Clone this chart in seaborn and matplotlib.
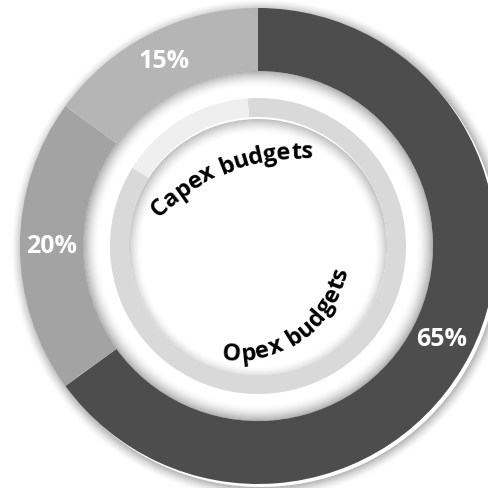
import numpy as np
import pandas as pd
import seaborn as sns
import matplotlib
matplotlib.use("Agg")
import matplotlib.pyplot as plt
from matplotlib.patches import Wedge, Circle
from matplotlib.font_manager import FontProperties, findfont
from matplotlib.ft2font import FT2Font

# ---------------- data ----------------
outer_labels = ["Opex", "Capex A", "Capex B"]
outer_values = [65, 20, 15]
outer_colors = ["#4d4d4d", "#a3a3a3", "#b5b5b5"]

inner_values = [85, 15]
inner_colors = ["#d9d9d9", "#efefef"]

capex_text = "Capex budgets"
opex_text = "Opex budgets"

# ---------------- style ----------------
sns.set_theme(style="white")
FAMILY = "Open Sans"
plt.rcParams["font.family"] = [FAMILY, "DejaVu Sans"]

W = 488
fig = plt.figure(figsize=(4.88, 4.88), dpi=100)
ax = fig.add_axes([0, 0, 1, 1])

CX, CY = 258, 242
R_OUT, R_OUT_IN = 238, 175
R_RING, R_RING_IN = 148, 129

# outer drop shadow (offset right/down)
n = 12
for k in range(n):
    r = R_OUT + 1 + k
    a = 0.28 * (1 - k / n) ** 1.6
    ax.add_patch(Wedge((CX + 3, CY - 3), r, 0, 360, width=1.05,
                       facecolor="black", edgecolor="none", alpha=a, zorder=0))

# outer ring
df = pd.DataFrame({"label": outer_labels, "value": outer_values})
wedges, _, autotexts = ax.pie(
    df["value"], radius=R_OUT, center=(CX, CY), startangle=90,
    counterclock=False, colors=outer_colors,
    wedgeprops=dict(width=R_OUT - R_OUT_IN, linewidth=0),
    autopct=lambda p: f"{p:.0f}%", pctdistance=0.868,
    textprops=dict(color="white", fontsize=18, fontweight="bold",
                   family=FAMILY))
for w in wedges:
    w.set_zorder(1)
for t in autotexts:
    t.set_zorder(5)

# shading in the gap next to outer ring
n = 16
for k in range(n):
    r = R_OUT_IN - k
    a = 0.30 * (1 - k / n) ** 1.8
    ax.add_patch(Wedge((CX, CY), r, 0, 360, width=1.05,
                       facecolor="black", edgecolor="none", alpha=a, zorder=2))

# inner disk shadow (inner shadow from the top)
clip = Circle((CX, CY), R_RING_IN, transform=ax.transData)
n = 14
for k in range(n):
    r = R_RING_IN + 2 - k
    a = 0.24 * (1 - k / n) ** 1.6
    p = Wedge((CX, CY - 4), r, 0, 360, width=1.05,
              facecolor="black", edgecolor="none", alpha=a, zorder=2)
    ax.add_patch(p)
    p.set_clip_path(clip)

# inner ring
w2, _ = ax.pie(inner_values, radius=R_RING, center=(CX, CY), startangle=94,
               counterclock=False, colors=inner_colors,
               wedgeprops=dict(width=R_RING - R_RING_IN, linewidth=0))
for w in w2:
    w.set_zorder(3)


# ---------------- curved text ----------------
FS = 17
fp = FontProperties(family=FAMILY, weight="bold")
font = FT2Font(findfont(fp))
font.set_size(FS, 100)


def char_offsets(s, span):
    adv = []
    for ch in s:
        g = font.load_char(ord(ch))
        adv.append(g.linearHoriAdvance / 65536.0)
    pos = np.cumsum([0] + adv)
    centers = (pos[:-1] + pos[1:]) / 2.0
    centers = centers - (centers[0] + centers[-1]) / 2.0
    return centers * span / np.ptp(centers)


def arc_text(s, cx, cy, r_mid, shift, mid_deg, span, top_side):
    offs = char_offsets(s, span)
    for ch, o in zip(s, offs):
        if ch == " ":
            continue
        if top_side:  # reading clockwise, tops outward
            th = np.deg2rad(mid_deg) - o / r_mid
            rot = np.rad2deg(th) - 90
            rb = r_mid - shift
        else:  # reading counter-clockwise, tops toward centre
            th = np.deg2rad(mid_deg) + o / r_mid
            rot = np.rad2deg(th) + 90
            rb = r_mid + shift
        x = cx + rb * np.cos(th)
        y = cy + rb * np.sin(th)
        ax.text(x, y, ch, rotation=rot, rotation_mode="anchor",
                ha="center", va="baseline", fontsize=FS, family=FAMILY,
                fontweight="bold", color="black", zorder=6)


arc_text(capex_text, 300, 133, 203, 6.5, 110.8, 162, True)
arc_text(opex_text, 237, 240, 106, 6.5, -53.5, 146, False)

ax.set_xlim(0, W)
ax.set_ylim(0, W)
ax.set_aspect("equal")
ax.axis("off")
fig.savefig("out.png", dpi=100, facecolor="white")
